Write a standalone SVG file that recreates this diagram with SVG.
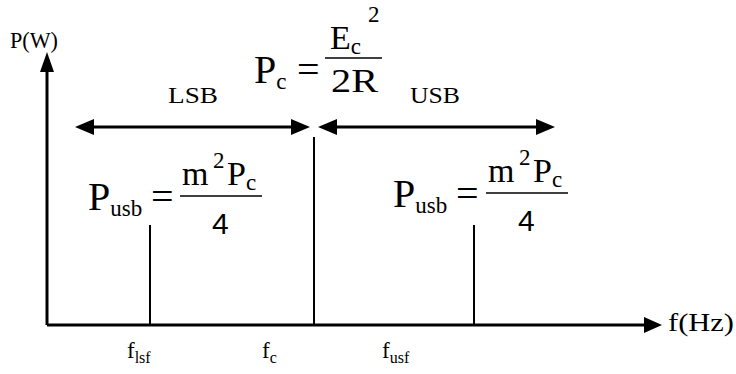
<svg xmlns="http://www.w3.org/2000/svg" width="736" height="374" viewBox="0 0 736 374" font-family="'Liberation Serif', 'Times New Roman', Times, serif">
<style>
.t{font-family:'Liberation Serif','Times New Roman',Times,serif;fill:#000}
.ax{stroke:#000;stroke-width:3;fill:none}
.ln{stroke:#000;stroke-width:2;fill:none}
.fr{stroke:#000;stroke-width:1.5}
.big{font-size:40px}
.num{font-size:34px}
.sub{font-size:23px}
.lab{font-size:23px}
.fs{font-size:16px}
.four{font-family:'Liberation Sans',Arial,sans-serif;font-size:30px;fill:#000}
</style>
<g id="connectors">
<path d="M47,325 V70" class="ax"/>
<path d="M47,52 L40,72 L54,72 Z" fill="#000"/>
<path d="M47,325 H646" class="ax"/>
<path d="M662,325 L644,317 L644,333 Z" fill="#000"/>
<path d="M92,127 H294" class="ax"/>
<path d="M75,127 L94,119 L94,135 Z" fill="#000"/>
<path d="M310,127 L291,119 L291,135 Z" fill="#000"/>
<path d="M336,127 H538" class="ax"/>
<path d="M318,127 L337,119 L337,135 Z" fill="#000"/>
<path d="M555,127 L536,119 L536,135 Z" fill="#000"/>
<path d="M150,225 V325" class="ln"/>
<path d="M314,137 V325" class="ln"/>
<path d="M474,225 V325" class="ln"/>
</g>
<g id="axis-labels">
<text x="10" y="48" class="t lab" textLength="48" lengthAdjust="spacingAndGlyphs">P(W)</text>
<text x="668" y="331" class="t lab" style="font-size:25px" textLength="66" lengthAdjust="spacingAndGlyphs">f(Hz)</text>
<text x="168" y="103" class="t lab" textLength="50" lengthAdjust="spacingAndGlyphs">LSB</text>
<text x="410" y="103" class="t lab" textLength="50" lengthAdjust="spacingAndGlyphs">USB</text>
</g>
<g id="freq-labels">
<text x="127" y="358" class="t lab">f<tspan class="fs" dy="5">lsf</tspan></text>
<text x="262" y="358" class="t lab">f<tspan class="fs" dy="5">c</tspan></text>
<text x="382" y="358" class="t lab">f<tspan class="fs" dy="5">usf</tspan></text>
</g>
<g id="carrier-formula">
<text x="254" y="83" class="t big">P<tspan class="sub" dy="6">c</tspan></text>
<text x="297" y="83" class="t big">=</text>
<line x1="325" y1="58" x2="382" y2="58" class="fr"/>
<text x="330" y="49" class="t num">E<tspan class="sub" dy="5">c</tspan></text>
<text x="368" y="22" class="t sub">2</text>
<text x="331" y="92" class="t num" textLength="47" lengthAdjust="spacingAndGlyphs">2R</text>
</g>
<g id="lsb-formula">
<text x="88" y="210" class="t big">P<tspan class="sub" dy="6">usb</tspan></text>
<text x="151" y="210" class="t big">=</text>
<line x1="180" y1="196" x2="262" y2="196" class="fr"/>
<text x="182" y="185" class="t num">m</text>
<text x="213" y="168" class="t sub">2</text>
<text x="227" y="185" class="t num">P<tspan class="sub" dy="5">c</tspan></text>
<text x="212" y="234" class="four">4</text>
</g>
<g id="usb-formula">
<text x="393" y="207" class="t big">P<tspan class="sub" dy="6">usb</tspan></text>
<text x="456" y="207" class="t big">=</text>
<line x1="486" y1="193" x2="568" y2="193" class="fr"/>
<text x="488" y="182" class="t num">m</text>
<text x="519" y="165" class="t sub">2</text>
<text x="533" y="182" class="t num">P<tspan class="sub" dy="5">c</tspan></text>
<text x="518" y="231" class="four">4</text>
</g>
</svg>
